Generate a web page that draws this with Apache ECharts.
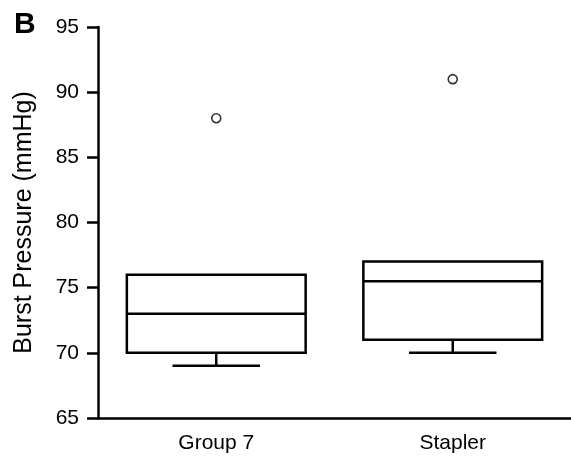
<!DOCTYPE html>
<html>
<head>
<meta charset="utf-8">
<script src="https://cdn.jsdelivr.net/npm/echarts@6/dist/echarts.min.js"></script>
<style>
html,body{margin:0;padding:0;background:#fff;}
#chart{width:571px;height:458px;}
</style>
</head>
<body>
<div id="chart"></div>
<script>
const categories = ['Group 7', 'Stapler'];
const boxMin = [69, 70];
const boxQ1 = [70, 71];
const boxMedian = [73, 75.5];
const boxQ3 = [76, 77];
const boxMax = [76, 77];
const outlierGroup = [0, 1];
const outlierValue = [88, 91];
const yTicks = [65, 70, 75, 80, 85, 90, 95];

const boxData = categories.map((c, i) => [i, boxMin[i], boxQ1[i], boxMedian[i], boxQ3[i], boxMax[i]]);
const outlierData = outlierGroup.map((g, i) => [g, outlierValue[i]]);

const chart = echarts.init(document.getElementById('chart'), null, {renderer: 'canvas'});
const FONT = 'Liberation Sans';
const LW = 2.5;
const lineStyle = {stroke: '#000', lineWidth: LW, fill: null};

chart.setOption({
  backgroundColor: '#fff',
  animation: false,
  title: {
    text: 'B', left: 9, top: 5,
    textStyle: {fontSize: 30, fontWeight: 'bold', fontFamily: 'Liberation Sans', color: '#000'}
  },
  grid: {left: 98, top: 27, width: 476, height: 391},
  xAxis: {
    type: 'category',
    data: categories,
    boundaryGap: true,
    axisLine: {lineStyle: {color: '#000', width: LW}},
    axisTick: {alignWithLabel: true, length: 9, lineStyle: {color: '#000', width: LW}},
    axisLabel: {color: '#000', fontSize: 21, fontFamily: FONT, margin: 15}
  },
  yAxis: {
    type: 'value',
    min: yTicks[0], max: yTicks[yTicks.length - 1], interval: 5,
    name: 'Burst Pressure (mmHg)',
    nameLocation: 'middle',
    nameGap: 61,
    nameTextStyle: {color: '#000', fontSize: 25, fontFamily: FONT},
    axisLine: {show: true, lineStyle: {color: '#000', width: LW}},
    axisTick: {show: true, length: 11, lineStyle: {color: '#000', width: LW}},
    axisLabel: {color: '#000', fontSize: 21, fontFamily: FONT, margin: 19},
    splitLine: {show: false}
  },
  series: [
    {
      type: 'custom',
      data: boxData,
      renderItem: function (params, api) {
        const idx = api.value(0);
        const band = api.size([1, 0])[0];
        const boxHalf = band * 0.378;
        const capHalf = band * 0.185;
        const pMin = api.coord([idx, api.value(1)]);
        const pQ1 = api.coord([idx, api.value(2)]);
        const pMed = api.coord([idx, api.value(3)]);
        const pQ3 = api.coord([idx, api.value(4)]);
        const pMax = api.coord([idx, api.value(5)]);
        const cx = pQ1[0];
        const children = [
          {type: 'rect', shape: {x: cx - boxHalf, y: pQ3[1], width: boxHalf * 2, height: pQ1[1] - pQ3[1]}, style: {stroke: '#000', lineWidth: LW, fill: 'rgba(0,0,0,0)'}},
          {type: 'line', shape: {x1: cx - boxHalf, y1: pMed[1], x2: cx + boxHalf, y2: pMed[1]}, style: lineStyle},
          {type: 'line', shape: {x1: cx, y1: pQ1[1], x2: cx, y2: pMin[1]}, style: lineStyle},
          {type: 'line', shape: {x1: cx - capHalf, y1: pMin[1], x2: cx + capHalf, y2: pMin[1]}, style: lineStyle}
        ];
        if (pMax[1] !== pQ3[1]) {
          children.push({type: 'line', shape: {x1: cx, y1: pQ3[1], x2: cx, y2: pMax[1]}, style: lineStyle});
          children.push({type: 'line', shape: {x1: cx - capHalf, y1: pMax[1], x2: cx + capHalf, y2: pMax[1]}, style: lineStyle});
        }
        return {type: 'group', children: children};
      }
    },
    {
      type: 'scatter',
      data: outlierData,
      symbol: 'circle',
      symbolSize: 9,
      itemStyle: {color: '#fff', borderColor: '#000', borderWidth: 1.6}
    }
  ]
});
</script>
</body>
</html>
